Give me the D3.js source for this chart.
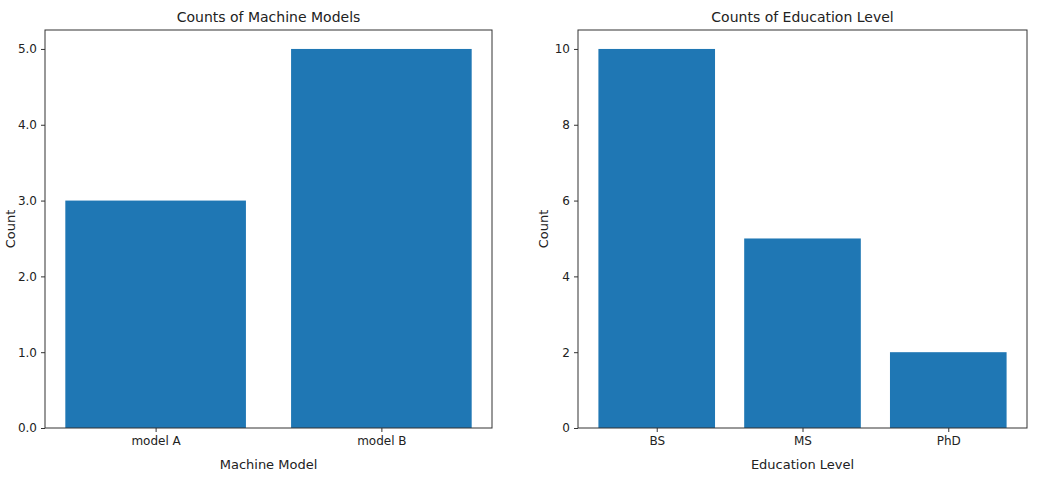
<!DOCTYPE html>
<html><head><meta charset="utf-8">
<script src="https://cdn.jsdelivr.net/npm/d3@7"></script>
<style>body{margin:0;background:#fff}text{font-family:"DejaVu Sans",sans-serif;fill:#222}</style>
</head><body>
<svg id="c" width="1039" height="480"></svg>
<script>
const modelCats = ["model A", "model B"];
const modelCounts = [3, 5];
const modelTicks = [0, 1, 2, 3, 4, 5];
const eduCats = ["BS", "MS", "PhD"];
const eduCounts = [10, 5, 2];
const eduTicks = [0, 2, 4, 6, 8, 10];

const svg = d3.select("#c");

function panel(left, right, cats, vals, ticks, ymax, title, xlabel) {
    const top = 30, bottom = 428, n = cats.length;
    const pad = (n - 0.2) * 0.05 + 0.4;
    const x = d3.scaleLinear().domain([-pad, n - 1 + pad]).range([left, right]);
    const y = d3.scaleLinear().domain([0, ymax]).range([bottom, top]);
    const g = svg.append("g");

    g.selectAll("rect.bar").data(vals).enter().append("rect")
        .attr("x", (d, i) => x(i - 0.4))
        .attr("width", (d, i) => x(i + 0.4) - x(i - 0.4))
        .attr("y", d => y(d))
        .attr("height", d => y(0) - y(d))
        .attr("fill", "#1f77b4");

    g.append("rect").attr("x", left).attr("y", top)
        .attr("width", right - left).attr("height", bottom - top)
        .attr("fill", "none").attr("stroke", "#333").attr("stroke-width", 1);

    const yax = g.append("g").attr("transform", "translate(" + left + ",0)")
        .call(d3.axisLeft(y).tickValues(ticks).tickSize(4).tickPadding(4));
    const xax = g.append("g").attr("transform", "translate(0," + bottom + ")")
        .call(d3.axisBottom(x).tickValues(d3.range(n)).tickFormat(i => cats[i]).tickSize(4).tickPadding(4));
    [yax, xax].forEach(a => {
        a.select(".domain").remove();
        a.selectAll("text").style("font-size", "12px").style("font-family", "DejaVu Sans");
        a.selectAll("line").attr("stroke", "#333");
    });

    g.append("text").attr("x", (left + right) / 2).attr("y", 22)
        .attr("text-anchor", "middle").style("font-size", "14px").text(title);
    g.append("text").attr("x", (left + right) / 2).attr("y", 469)
        .attr("text-anchor", "middle").style("font-size", "13px").text(xlabel);
    g.append("text").attr("transform", "translate(" + (left - 30) + "," + ((top + bottom) / 2) + ") rotate(-90)")
        .attr("text-anchor", "middle").style("font-size", "13px").text("Count");
}

panel(45, 492, modelCats, modelCounts, modelTicks, 5.25, "Counts of Machine Models", "Machine Model");
panel(578, 1027, eduCats, eduCounts, eduTicks, 10.5, "Counts of Education Level", "Education Level");
</script>
</body></html>
